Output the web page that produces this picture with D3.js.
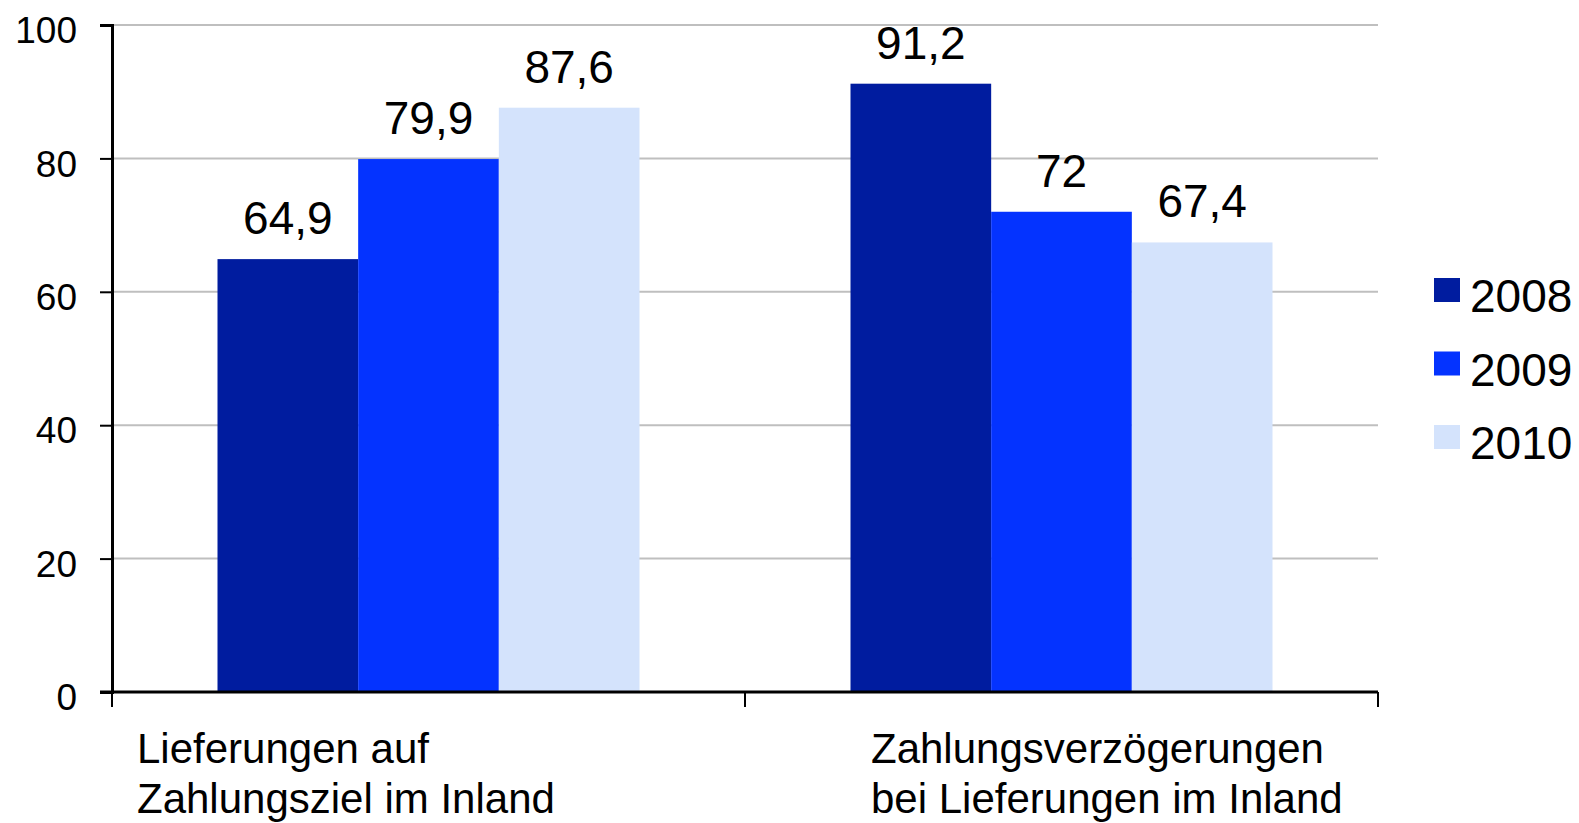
<!DOCTYPE html>
<html>
<head>
<meta charset="utf-8">
<script src="https://cdn.jsdelivr.net/npm/d3@7"></script>
<style>
  body { margin: 0; background: #fff; }
  svg { display: block; font-family: "Liberation Sans", Arial, sans-serif; }
</style>
</head>
<body>
<main></main>
<script>
const categories = [
    ["Lieferungen auf", "Zahlungsziel im Inland"],
    ["Zahlungsverzögerungen", "bei Lieferungen im Inland"]
];
const series = ["2008", "2009", "2010"];
const values2008 = [64.9, 91.2];
const values2009 = [79.9, 72];
const values2010 = [87.6, 67.4];
const yTicks = [0, 20, 40, 60, 80, 100];
const colors = ["#001c9f", "#0433ff", "#d4e3fc"];

const drawChart = () => {
    const seriesValues = [values2008, values2009, values2010];
    const data = categories.map((c, i) => ({
        cat: i,
        vals: series.map((s, j) => ({key: s, idx: j, value: seriesValues[j][i]}))
    }));

    const outerWidth = 1579, outerHeight = 823;
    const left = 112, right = 1378, top = 25, bottom = 692;

    const svg = d3.select("main").append("svg")
        .attr("width", outerWidth)
        .attr("height", outerHeight);

    const x0 = d3.scaleBand().domain(d3.range(categories.length)).range([left, right]);
    const x1 = d3.scaleBand().domain(series).range([0, x0.bandwidth()])
        .paddingInner(0).paddingOuter(0.75);
    const y = d3.scaleLinear().domain([0, 100]).range([bottom, top]);

    // gridlines
    svg.append("g")
        .selectAll("line")
        .data(yTicks.filter(d => d > 0))
        .enter()
        .append("line")
        .attr("x1", left).attr("x2", right)
        .attr("y1", d => y(d)).attr("y2", d => y(d))
        .attr("stroke", "#bfbfbf")
        .attr("stroke-width", 2);

    // bars
    const groups = svg.append("g")
        .selectAll("g")
        .data(data)
        .enter()
        .append("g")
        .attr("transform", d => "translate(" + x0(d.cat) + ",0)");

    groups.selectAll("rect")
        .data(d => d.vals)
        .enter()
        .append("rect")
        .attr("x", d => x1(d.key))
        .attr("width", x1.bandwidth())
        .attr("y", d => y(d.value))
        .attr("height", d => y(0) - y(d.value))
        .attr("fill", d => colors[d.idx]);

    groups.selectAll("text")
        .data(d => d.vals)
        .enter()
        .append("text")
        .attr("x", d => x1(d.key) + x1.bandwidth() / 2)
        .attr("y", d => y(d.value) - 25)
        .attr("text-anchor", "middle")
        .attr("font-size", 46)
        .attr("fill", "#000")
        .text(d => String(d.value).replace(".", ","));

    // y axis
    const yAxis = d3.axisLeft(y).tickValues(yTicks).tickSize(12).tickPadding(23);
    const ya = svg.append("g")
        .attr("transform", "translate(" + left + ",0)")
        .call(yAxis);
    ya.select(".domain").attr("stroke", "#000").attr("stroke-width", 3);
    ya.selectAll(".tick line").attr("stroke", "#000").attr("stroke-width", 2);
    ya.selectAll(".tick text")
        .attr("font-size", 37)
        .attr("font-family", "Liberation Sans, Arial, sans-serif")
        .attr("fill", "#000")
        .attr("dy", "0.48em");

    // x axis
    const xa = svg.append("g").attr("transform", "translate(0," + bottom + ")");
    xa.append("line")
        .attr("x1", left - 12).attr("x2", right)
        .attr("stroke", "#000").attr("stroke-width", 3);
    xa.selectAll(".xtick")
        .data(d3.range(categories.length + 1))
        .enter()
        .append("line")
        .attr("class", "xtick")
        .attr("x1", i => i < categories.length ? x0(i) : right)
        .attr("x2", i => i < categories.length ? x0(i) : right)
        .attr("y1", 0).attr("y2", 15)
        .attr("stroke", "#000").attr("stroke-width", 2);

    const labelOffsets = [25, 126];
    const catLabels = xa.selectAll(".cat")
        .data(categories)
        .enter()
        .append("text")
        .attr("class", "cat")
        .attr("font-size", 42)
        .attr("fill", "#000")
        .attr("x", (d, i) => x0(i) + labelOffsets[i])
        .attr("y", 71);
    catLabels.selectAll("tspan")
        .data(d => d)
        .enter()
        .append("tspan")
        .attr("x", function () { return d3.select(this.parentNode).attr("x"); })
        .attr("dy", (d, i) => i === 0 ? 0 : 50)
        .text(d => d);

    // legend
    const legend = svg.append("g").attr("transform", "translate(1434,312)");
    const items = legend.selectAll("g")
        .data(series)
        .enter()
        .append("g")
        .attr("transform", (d, i) => "translate(0," + i * 73.5 + ")");
    items.append("rect")
        .attr("x", 0).attr("y", -34)
        .attr("width", 26).attr("height", 24)
        .attr("fill", (d, i) => colors[i]);
    items.append("text")
        .attr("x", 36).attr("y", 0)
        .attr("font-size", 46)
        .attr("fill", "#000")
        .text(d => d);
}

drawChart();
</script>
</body>
</html>
